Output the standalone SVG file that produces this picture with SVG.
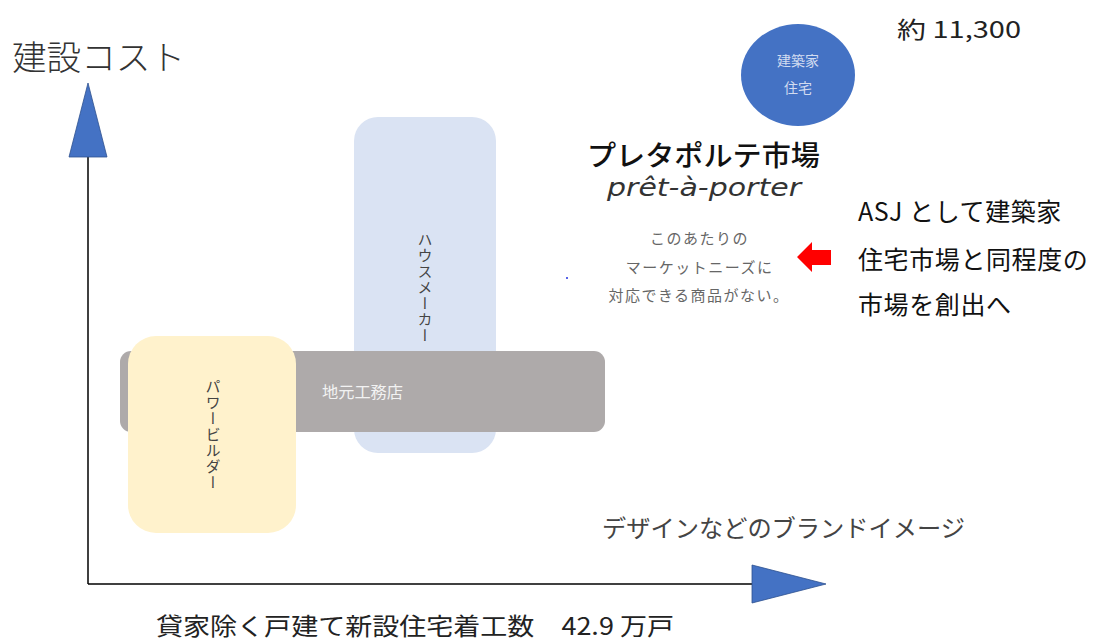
<svg xmlns="http://www.w3.org/2000/svg" width="1097" height="643" viewBox="0 0 1097 643">
<style>
.jp{font-family:"Noto Sans CJK JP","Noto Sans",sans-serif}
.vt{font-family:"Noto Sans CJK JP",sans-serif;font-size:15px;fill:#444;writing-mode:vertical-rl;text-anchor:middle;letter-spacing:1px}
.axis{stroke:#000;stroke-width:1.5;fill:none}
.ahead{fill:#4472C4;stroke:#2F528F;stroke-width:0.8}
</style>
<rect width="1097" height="643" fill="#fff"/>

<g id="axis-labels">
<text x="12" y="70" class="jp" font-size="34" font-weight="300" fill="#333" textLength="173" lengthAdjust="spacingAndGlyphs">建設コスト</text>
<text x="156" y="635" class="jp" font-size="24" fill="#222" textLength="518" lengthAdjust="spacingAndGlyphs">貸家除く戸建て新設住宅着工数　42.9 万戸</text>
<text x="602" y="537" class="jp" font-size="24" fill="#444" textLength="363" lengthAdjust="spacingAndGlyphs">デザインなどのブランドイメージ</text>
</g>

<g id="connectors">
<line class="axis" x1="88" y1="156" x2="88" y2="584"/>
<line class="axis" x1="88" y1="584" x2="753" y2="584"/>
<polygon class="ahead" points="88,83 107,157 69,157"/>
<polygon class="ahead" points="826,584 752,603 752,565"/>
<polygon fill="#FF0000" points="797,257 812,242 812,250 831,250 831,265 812,265 812,272"/>
</g>

<g id="housemaker">
<rect x="354" y="117" width="142" height="336" rx="24" fill="#DAE3F3"/>
<text x="425" y="288" class="vt">ハウスメーカー</text>
</g>

<g id="local-builder">
<rect x="120" y="351" width="485" height="81" rx="11" fill="#AEAAAA"/>
<text x="322" y="398" class="jp" font-size="16" fill="#F2F2F2" textLength="81" lengthAdjust="spacingAndGlyphs">地元工務店</text>
</g>

<g id="power-builder">
<rect x="128" y="336" width="168" height="197" rx="28" fill="#FFF2CC"/>
<text x="213" y="435" class="vt">パワービルダー</text>
</g>

<g id="architect-house">
<ellipse cx="798" cy="75" rx="57" ry="51" fill="#4472C4"/>
<text x="798" y="66" class="jp" font-size="14" fill="#D2DCF0" text-anchor="middle">建築家</text>
<text x="798" y="93" class="jp" font-size="14" fill="#D2DCF0" text-anchor="middle">住宅</text>
</g>

<g id="count">
<text x="897" y="38" class="jp" font-size="23" fill="#222" textLength="124" lengthAdjust="spacingAndGlyphs">約 11,300</text>
</g>

<g id="pret-a-porter">
<text x="587" y="166" class="jp" font-size="28" font-weight="500" fill="#111" textLength="233" lengthAdjust="spacingAndGlyphs">プレタポルテ市場</text>
<text x="607" y="196" font-family="DejaVu Sans, sans-serif" font-style="italic" font-size="25" fill="#333" textLength="194" lengthAdjust="spacingAndGlyphs">prêt-à-porter</text>
<text class="jp" font-size="15" fill="#666" text-anchor="middle" letter-spacing="1.5">
<tspan x="702" y="244">このあたりの</tspan>
<tspan x="702" y="273">マーケットニーズに</tspan>
<tspan x="699" y="301">対応できる商品がない。</tspan>
</text>
<circle cx="567" cy="278" r="1" fill="#2030E0"/>
</g>

<g id="asj">
<text class="jp" font-size="25" fill="#111" letter-spacing="0.6">
<tspan x="858" y="221">ASJ として建築家</tspan>
<tspan x="858" y="269">住宅市場と同程度の</tspan>
<tspan x="858" y="314">市場を創出へ</tspan>
</text>
</g>
</svg>
